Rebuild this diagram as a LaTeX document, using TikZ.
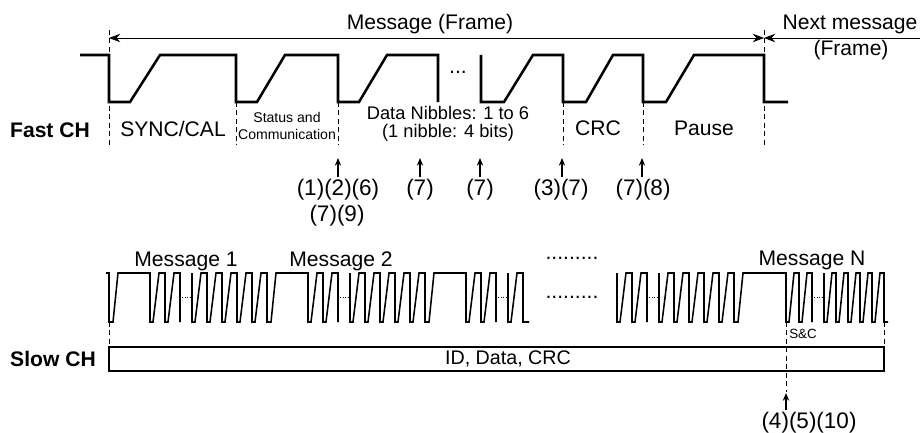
\documentclass[tikz,border=0pt]{standalone}
\usepackage{fontspec}
\setmainfont{Liberation Sans}
\usepackage{tikz}
\usetikzlibrary{arrows.meta}

\begin{document}
\begin{tikzpicture}[
x=0.025cm, y=-0.025cm,
txt/.style={font=\fontsize{15}{17}\selectfont, inner sep=0pt},
note/.style={font=\fontsize{13}{12.5}\selectfont, inner sep=0pt, align=center},
tiny/.style={font=\fontsize{10}{12}\selectfont, inner sep=0pt, align=center},
chan/.style={font=\bfseries\fontsize{15}{17}\selectfont, inner sep=0pt},
num/.style={font=\fontsize{16}{19}\selectfont, inner sep=1.5pt},
fwave/.style={line width=1.8pt},
swave/.style={line width=1.1pt},
guide/.style={line width=0.6pt, dash pattern=on 3.5pt off 2.5pt},
gap/.style={line width=0.6pt, dash pattern=on 0.6pt off 1.2pt},
dimarr/.style={{Stealth[length=8pt,width=6pt]}-{Stealth[length=8pt,width=6pt]}, line width=0.6pt},
nextarr/.style={-{Stealth[length=8pt,width=6pt]}, line width=0.6pt},
uparr/.style={-{Stealth[length=5.5pt,width=4.5pt]}, line width=0.8pt}
]
\useasboundingbox (0,0) rectangle (920,433);

% fast channel
\draw[fwave] (80,55) -- (109,55) -- (109,102) -- (130,102) -- (160,55) -- (236,55) -- (236,102) -- (257,102) -- (285,55) -- (338,55) -- (338,102) -- (359,102) -- (387,55) -- (438,55) -- (438,102);
\draw[fwave] (481,55) -- (481,102) -- (504,102) -- (533,55) -- (563,55) -- (563,102) -- (586,102) -- (613,55) -- (643,55) -- (643,102) -- (666,102) -- (694,55) -- (764,55) -- (764,102) -- (788,102);
\node[txt] (fdots) at (458,72) {...};

\coordinate (ms) at (109,38);
\coordinate (me) at (764,38);
\coordinate (nx) at (920,38);
\draw[guide] (109,30) -- (109,145);
\draw[guide] (764,30) -- (764,145);
\draw[guide] (236,102) -- (236,145);
\draw[guide] (338,102) -- (338,145);
\draw[guide] (563,102) -- (563,145);
\draw[guide] (643,102) -- (643,145);
\draw[dimarr] (ms) -- (me);
\draw[nextarr] (nx) -- (me);
\node[txt] (msg) at (430,24) {Message (Frame)};
\node[txt] (next) at (850,24) {Next message};
\node[txt] (nextb) at (851,50) {(Frame)};

\node[chan] (fast) at (50,130) {Fast CH};
\node[txt] (sync) at (173,129) {SYNC/CAL};
\node[tiny] (sc) at (287,126) {Status and\\Communication};
\node[note] (data) at (448,124) {Data Nibbles: 1 to 6\\(1 nibble: 4 bits)};
\node[txt] (crc) at (598,128) {CRC};
\node[txt] (pause) at (704,128) {Pause};

% check points
\coordinate (t1) at (338,158);
\coordinate (t2) at (420,158);
\coordinate (t3) at (480,158);
\coordinate (t4) at (562,158);
\coordinate (t5) at (642,158);
\node[num] (c1) at (338,190) {(1)(2)(6)};
\node[num] (c1b) at (337,216) {(7)(9)};
\node[num] (c2) at (420,190) {(7)};
\node[num] (c3) at (480,190) {(7)};
\node[num] (c4) at (561,190) {(3)(7)};
\node[num] (c5) at (643,190) {(7)(8)};
\draw[uparr] (c1.north -| t1) -- (t1);
\draw[uparr] (c2.north -| t2) -- (t2);
\draw[uparr] (c3.north -| t3) -- (t3);
\draw[uparr] (c4.north -| t4) -- (t4);
\draw[uparr] (c5.north -| t5) -- (t5);

% slow channel
\node[txt] (m1) at (186,261) {Message 1};
\node[txt] (m2) at (341,261) {Message 2};
\node[txt] (mn) at (812,260) {Message N};
\node[txt] (sdots) at (572,258) {.........};
\node[txt] (sdotsb) at (572,297) {.........};

\draw[swave] (106,273) -- (109,273)
  -- ++(0,49) -- ++(4,0) -- ++(5,-49) -- ++(32,0)
  \foreach \k in {1,2} {-- ++(0,49) -- ++(3,0) -- ++(6,-49) -- ++(6,0)}
  -- ++(0,49);
\draw[gap] (182,297) -- (190,297);
\draw[swave] (192,273)
  \foreach \k in {1,...,5} {-- ++(0,49) -- ++(3,0) -- ++(6,-49) -- ++(6,0)}
  -- ++(0,49) -- ++(4,0) -- ++(5,-49) -- ++(32,0)
  \foreach \k in {1,2} {-- ++(0,49) -- ++(3,0) -- ++(6,-49) -- ++(6,0)}
  -- ++(0,49);
\draw[gap] (340,297) -- (348,297);
\draw[swave] (350,273)
  \foreach \k in {1,...,5} {-- ++(0,49) -- ++(3,0) -- ++(6,-49) -- ++(6,0)}
  -- ++(0,49) -- ++(4,0) -- ++(5,-49) -- ++(32,0)
  \foreach \k in {1,2} {-- ++(0,49) -- ++(3,0) -- ++(6,-49) -- ++(6,0)}
  -- ++(0,49);
\draw[gap] (498,297) -- (506,297);
\draw[swave] (508,273) -- ++(0,49) -- ++(3,0) -- ++(6,-49) -- ++(6,0) -- ++(0,49) -- ++(6,0);

\draw[swave] (617,273)
  \foreach \k in {1,2} {-- ++(0,49) -- ++(3,0) -- ++(6,-49) -- ++(6,0)}
  -- ++(0,49);
\draw[gap] (649,297) -- (657,297);
\draw[swave] (659,273)
  \foreach \k in {1,...,5} {-- ++(0,49) -- ++(3,0) -- ++(6,-49) -- ++(6,0)}
  -- ++(0,49) -- ++(4,0) -- ++(5,-49) -- ++(43,0)
  \foreach \k in {1,2} {-- ++(0,49) -- ++(3,0) -- ++(5,-49) -- ++(5,0)}
  -- ++(0,49);
\draw[gap] (814,297) -- (822,297);
\draw[swave] (824,273)
  \foreach \k in {1,...,5} {-- ++(0,49) -- ++(3,0) -- ++(5,-49) -- ++(4,0)}
  -- ++(0,49) -- ++(4,0);

\draw[guide] (109,322) -- (109,345);
\draw[guide] (884,322) -- (884,345);
\draw[guide] (786,322) -- (786,392);
\node[font=\fontsize{9.5}{11}\selectfont, inner sep=0pt, anchor=west] (snc) at (789,334) {S\&C};

\node[chan] (slow) at (53,359) {Slow CH};
\draw[line width=0.9pt] (109,347) rectangle (884,371);
\node[font=\fontsize{14}{16}\selectfont, inner sep=0pt] (idd) at (508,359) {ID, Data, CRC};

\coordinate (t6) at (786,393);
\node[num] (c6) at (809,423) {(4)(5)(10)};
\draw[uparr] (c6.north -| t6) -- (t6);
\end{tikzpicture}
\end{document}
